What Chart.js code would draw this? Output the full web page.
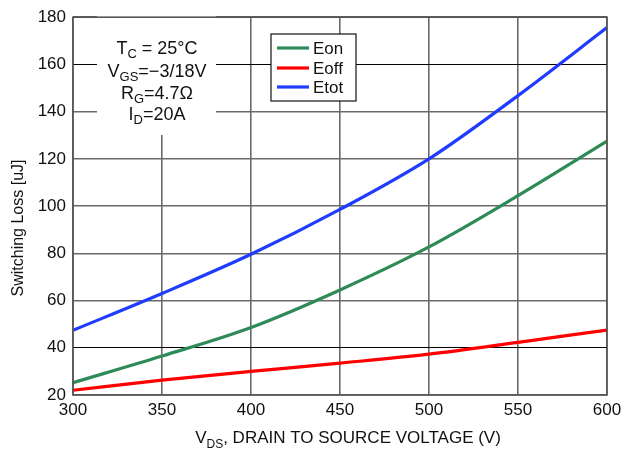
<!DOCTYPE html>
<html>
<head>
<meta charset="utf-8">
<script src="https://cdn.jsdelivr.net/npm/chart.js@4/dist/chart.umd.min.js"></script>
<style>
html,body{margin:0;padding:0;background:#fff;}
#wrap{width:629px;height:452px;position:relative;}
</style>
</head>
<body>
<div id="wrap"><canvas id="c" width="629" height="452"></canvas></div>
<script>
const vds = [300, 350, 400, 450, 500, 550, 600];
const eon = [25.2, 36.5, 48.6, 64.5, 82.7, 104.4, 127.5];
const eoff = [22.0, 26.3, 30.0, 33.5, 37.3, 42.3, 47.5];
const etot = [47.4, 63.0, 79.6, 98.6, 120.0, 146.8, 175.6];
const xTicks = [300, 350, 400, 450, 500, 550, 600];
const yTicks = [20, 40, 60, 80, 100, 120, 140, 160, 180];
const seriesNames = ['Eon', 'Eoff', 'Etot'];
const seriesColors = ['#2e8b57', '#ff0000', '#1f3cff'];
const FONT = '"Liberation Sans", Arial, sans-serif';

function pts(arr){ return vds.map((v,i)=>({x:v,y:arr[i]})); }

const overlay = {
  id:'overlay',
  beforeDatasetsDraw(chart){
    const ctx = chart.ctx;
    ctx.save();
    ctx.fillStyle = '#fff';
    ctx.fillRect(97, 16, 119, 119);
    ctx.restore();
  },
  afterDraw(chart){
    const ctx = chart.ctx;
    ctx.save();
    ctx.fillStyle = '#111';
    ctx.textBaseline = 'alphabetic';
    const big = '18px ' + FONT, small = '13px ' + FONT;
    const lines = [
      [['T',big,0],['C',small,4],[' = 25°C',big,0]],
      [['V',big,0],['GS',small,4],['=−3/18V',big,0]],
      [['R',big,0],['G',small,4],['=4.7Ω',big,0]],
      [['I',big,0],['D',small,4],['=20A',big,0]]
    ];
    const baselines = [53.5, 76.5, 98.5, 120];
    const cx = 157;
    lines.forEach((parts,i)=>{
      let w = 0;
      parts.forEach(p=>{ ctx.font=p[1]; w += ctx.measureText(p[0]).width; });
      let x = cx - w/2;
      parts.forEach(p=>{ ctx.font=p[1]; ctx.fillText(p[0], x, baselines[i]+p[2]); x += ctx.measureText(p[0]).width; });
    });
    // legend
    ctx.fillStyle = '#fff';
    ctx.fillRect(271, 34, 85, 67);
    ctx.strokeStyle = '#111';
    ctx.lineWidth = 1.2;
    ctx.strokeRect(271, 34, 85, 67);
    const ly = [48, 68, 87];
    chart.data.datasets.forEach((ds,i)=>{
      ctx.strokeStyle = ds.borderColor;
      ctx.lineWidth = 3.2;
      ctx.beginPath(); ctx.moveTo(277, ly[i]); ctx.lineTo(309, ly[i]); ctx.stroke();
      ctx.fillStyle = '#111';
      ctx.font = '17px ' + FONT;
      ctx.textBaseline = 'middle';
      ctx.fillText(ds.label, 313, ly[i]+1);
    });
    // x axis title
    ctx.textBaseline = 'alphabetic';
    const xb = '17px ' + FONT, xs = '12px ' + FONT;
    const xparts = [['V',xb,0],['DS',xs,5],[', DRAIN TO SOURCE VOLTAGE (V)',xb,0]];
    let w = 0;
    xparts.forEach(p=>{ ctx.font=p[1]; w += ctx.measureText(p[0]).width; });
    let x = 348 - w/2;
    xparts.forEach(p=>{ ctx.font=p[1]; ctx.fillText(p[0], x, 443+p[2]); x += ctx.measureText(p[0]).width; });
    // y axis title
    ctx.save();
    ctx.translate(23, 228);
    ctx.rotate(-Math.PI/2);
    ctx.font = '16px ' + FONT;
    ctx.textAlign = 'center';
    ctx.fillText('Switching Loss [uJ]', 0, 0);
    ctx.restore();
    // plot frame
    const a = chart.chartArea;
    ctx.strokeStyle = '#555';
    ctx.lineWidth = 1.6;
    ctx.strokeRect(a.left, a.top, a.right-a.left, a.bottom-a.top);
    ctx.restore();
  }
};

new Chart(document.getElementById('c'), {
  type:'line',
  data:{
    datasets: [eon, eoff, etot].map((arr,i)=>({
      label: seriesNames[i],
      data: pts(arr),
      borderColor: seriesColors[i],
      backgroundColor: seriesColors[i],
      borderWidth: 3.2,
      pointRadius: 0,
      cubicInterpolationMode: 'monotone',
      fill: false
    }))
  },
  options:{
    responsive:false,
    animation:false,
    devicePixelRatio:1,
    layout:{padding:{top:14,right:22,left:0,bottom:0}},
    plugins:{legend:{display:false},tooltip:{enabled:false}},
    scales:{
      x:{
        type:'linear', min:300, max:600,
        afterBuildTicks(s){ s.ticks = xTicks.map(v=>({value:v})); },
        afterFit(s){ s.height = 57; },
        grid:{color:'#6a6a6a', lineWidth:1.6, drawTicks:false},
        border:{display:false},
        ticks:{color:'#111', font:{family:FONT, size:17}, padding:5, maxRotation:0}
      },
      y:{
        type:'linear', min:20, max:180,
        afterBuildTicks(s){ s.ticks = yTicks.map(v=>({value:v})); },
        afterFit(s){ s.width = 73; },
        grid:{
          color:(c)=> (c.tick && (c.tick.value===40 || c.tick.value===160)) ? '#000' : '#6a6a6a',
          lineWidth:(c)=> (c.tick && (c.tick.value===40 || c.tick.value===160)) ? 1 : 1.6,
          drawTicks:false
        },
        border:{display:false},
        ticks:{color:'#111', font:{family:FONT, size:17}, padding:7}
      }
    }
  },
  plugins:[overlay]
});
</script>
</body>
</html>
